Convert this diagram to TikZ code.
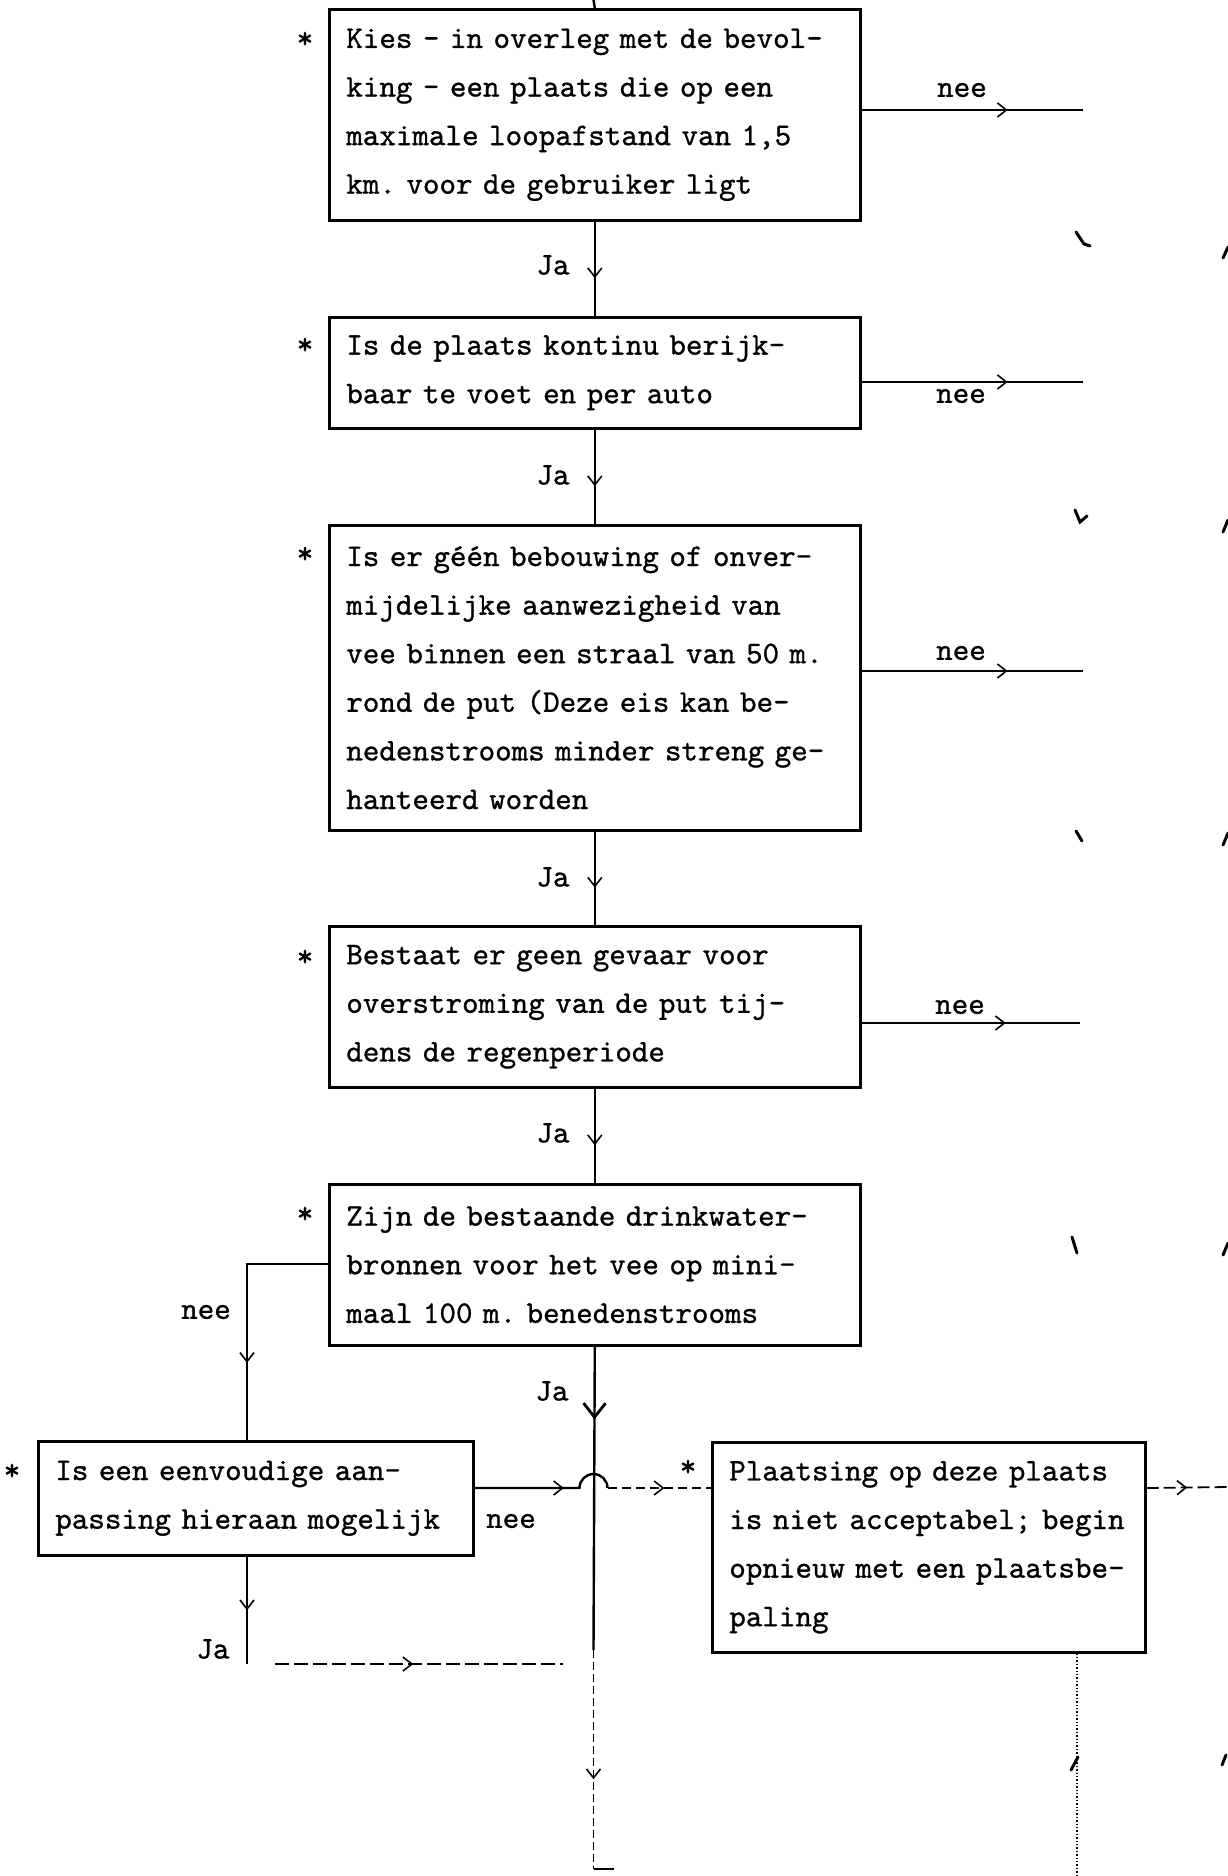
\documentclass[tikz,border=0pt]{standalone}
\usepackage{fontspec}
\newfontfamily\tw[FakeBold=0.9]{lmmono10-regular.otf}
\newcommand\Ln[1]{\mbox{#1}}
\usetikzlibrary{arrows.meta,decorations.markings}
\begin{document}
\frenchspacing
\begin{tikzpicture}[x=1pt,y=-1pt,
  box/.style={draw, line width=2.6pt, anchor=north west, inner xsep=17pt, inner ysep=0pt,
    align=left, font=\tw\fontsize{31.5}{48.6}\selectfont\frenchspacing},
  lbl/.style={font=\tw\fontsize{31.5}{36}\selectfont, inner sep=0pt},
  conn/.style={line width=2.4pt},
  thin/.style={line width=1.8pt},
  midarrow/.style={postaction={decorate}, decoration={markings,
    mark=at position #1 with {\arrow{Straight Barb[length=9pt,width=14pt,line width=1.6pt]}}}},
  midarrow/.default=0.5,
  bigarrow/.style={postaction={decorate}, decoration={markings,
    mark=at position #1 with {\arrow{Straight Barb[length=14pt,width=22pt,line width=2.8pt]}}}},
  scrap/.style={line width=3pt, line cap=round}
]
\fill[white] (0,0) rectangle (1228,1876);
\useasboundingbox (0,0) rectangle (1228,1876);

% boxes
\node[box, minimum width=531pt, minimum height=211pt, text width=497pt] (b1) at (328,8)
 {\Ln{Kies - in overleg met de bevol-}\\\Ln{king - een plaats die op een}\\\Ln{maximale loopafstand van 1,5}\\\Ln{km. voor de gebruiker ligt}};
\node[box, minimum width=531pt, minimum height=111pt, text width=497pt] (b2) at (328,316)
 {\Ln{Is de plaats kontinu berijk-}\\\Ln{baar te voet en per auto}};
\node[box, minimum width=531pt, minimum height=305pt, text width=497pt] (b3) at (328,524)
 {\Ln{Is er géén bebouwing of onver-}\\\Ln{mijdelijke aanwezigheid van}\\\Ln{vee binnen een straal van 50 m.}\\\Ln{rond de put (Deze eis kan be-}\\\Ln{nedenstrooms minder streng ge-}\\\Ln{hanteerd worden}};
\node[box, minimum width=531pt, minimum height=161pt, text width=497pt] (b4) at (328,925)
 {\Ln{Bestaat er geen gevaar voor}\\\Ln{overstroming van de put tij-}\\\Ln{dens de regenperiode}};
\node[box, minimum width=531pt, minimum height=161pt, text width=497pt] (b5) at (328,1183)
 {\Ln{Zijn de bestaande drinkwater-}\\\Ln{bronnen voor het vee op mini-}\\\Ln{maal 100 m. benedenstrooms}};
\node[box, minimum width=435pt, minimum height=114pt, text width=401pt] (b6) at (37,1440)
 {\Ln{Is een eenvoudige aan-}\\\Ln{passing hieraan mogelijk}};
\node[box, minimum width=433pt, minimum height=210pt, text width=399pt] (b7) at (711,1441)
 {\Ln{Plaatsing op deze plaats}\\\Ln{is niet acceptabel; begin}\\\Ln{opnieuw met een plaatsbe-}\\\Ln{paling}};

% stars
\node[lbl] (s1) at (305,40) {*};
\node[lbl] (s2) at (305,346) {*};
\node[lbl] (s3) at (305,555) {*};
\node[lbl] (s4) at (305,958) {*};
\node[lbl] (s5) at (305,1215) {*};
\node[lbl] (s6) at (12,1472) {*};
\node[lbl] (s7) at (688,1468) {*};

% main spine
\coordinate (top) at (593.5,0);
\draw[conn] (top) -- (b1.north);
\draw[conn, midarrow=0.6] (b1.south) -- (b2.north);
\draw[conn, midarrow=0.6] (b2.south) -- (b3.north);
\draw[conn, midarrow=0.6] (b3.south) -- (b4.north);
\draw[conn, midarrow=0.6] (b4.south) -- (b5.north);
\coordinate (spinemid) at (593.5,1650);
\coordinate (spinebot) at (593.5,1869);
\coordinate (spineend) at (614,1869);
\draw[conn, bigarrow=0.24] (b5.south) -- (spinemid);
\draw[thin, dashed, dash pattern=on 8pt off 4pt, midarrow=0.59] (spinemid) -- (spinebot);
\draw[conn] (spinebot) -- (spineend);

\node[lbl] (ja1) at (553,265) {Ja};
\node[lbl] (ja2) at (553,475) {Ja};
\node[lbl] (ja3) at (553,877) {Ja};
\node[lbl] (ja4) at (553,1133) {Ja};
\node[lbl] (ja5) at (552,1391) {Ja};

% nee exits right
\coordinate (e1) at (1083,110);
\coordinate (e2) at (1083,382);
\coordinate (e3) at (1083,671);
\coordinate (e4) at (1080,1023);
\draw[conn, midarrow=0.66] (b1.east |- e1) -- (e1);
\draw[conn, midarrow=0.66] (b2.east |- e2) -- (e2);
\draw[conn, midarrow=0.66] (b3.east |- e3) -- (e3);
\draw[conn, midarrow=0.66] (b4.east |- e4) -- (e4);
\node[lbl] (n1) at (962,90) {nee};
\node[lbl] (n2) at (961,396) {nee};
\node[lbl] (n3) at (961,653) {nee};
\node[lbl] (n4) at (960,1007) {nee};

% left branch from b5
\coordinate (lk) at (247,1264);
\draw[conn, midarrow=0.7] (b5.west |- lk) -- (lk) -- (lk |- b6.north);
\node[lbl] (n5) at (206,1312) {nee};

% b6 to b7 with hop
\coordinate (hopy) at (0,1488);
\coordinate (hopl) at (579.5,1488);
\coordinate (hopr) at (607.5,1488);
\draw[conn, midarrow=0.6] (b6.east |- hopy) -- (hopl) arc[start angle=180, end angle=0, radius=14pt];
\draw[thin, dashed, dash pattern=on 9pt off 5pt, midarrow=0.55] (hopr) -- (b7.west |- hopy);
\node[lbl] (n6) at (511,1521) {nee};

% b6 down
\coordinate (jd) at (247,1664);
\draw[conn, midarrow=0.5] (lk |- b6.south) -- (jd);
\node[lbl] (ja6) at (213,1649) {Ja};
\coordinate (jl) at (275,1664);
\coordinate (jr) at (563,1664);
\draw[thin, dashed, dash pattern=on 14pt off 5pt, midarrow=0.48] (jl) -- (jr);

% b7 right and below
\coordinate (r7) at (1228,1487);
\draw[thin, dashed, dash pattern=on 12pt off 5pt, midarrow=0.5] (b7.east |- hopy) -- (r7);
\coordinate (d7) at (1077,1876);
\draw[line width=1.4pt, dotted] (b7.south -| d7) -- (d7);

% scan fragments on the right
\draw[scrap] (1076,232) -- (1084,244) -- (1090,246);
\draw[scrap] (1223,258) -- (1228,247);
\draw[scrap] (1075,510) -- (1080,522) -- (1087,516);
\draw[scrap] (1223,532) -- (1228,520);
\draw[scrap] (1076,831) -- (1082,841);
\draw[scrap] (1223,845) -- (1228,833);
\draw[scrap] (1072,1237) -- (1077,1253);
\draw[scrap] (1223,1255) -- (1228,1243);
\draw[scrap] (1071,1770) -- (1078,1757);
\draw[scrap] (1222,1765) -- (1226,1755);
\end{tikzpicture}
\end{document}
